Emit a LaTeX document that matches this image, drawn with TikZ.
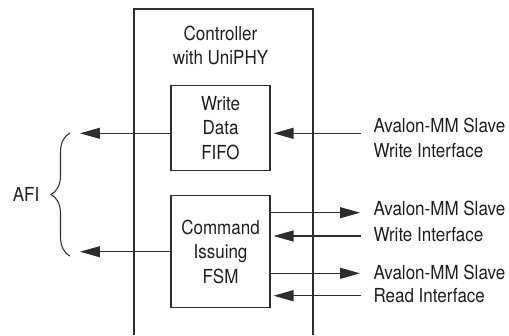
\documentclass[tikz,border=0pt]{standalone}
\usepackage{fontspec}
\setmainfont{TeX Gyre Heros}[FakeStretch=0.88]
\usetikzlibrary{arrows.meta, positioning, decorations.pathreplacing}
\definecolor{linecolor}{RGB}{45,45,45}
\definecolor{textcolor}{RGB}{30,30,30}

\begin{document}
\begin{tikzpicture}[
    x=0.02cm, y=-0.02cm,
    >={Triangle[length=4mm, width=2.2mm]},
    line width=0.6pt,
    every node/.style={text=textcolor, font=\fontsize{11}{14}\selectfont},
    block/.style={draw=linecolor, line width=0.6pt, minimum width=1.98cm, align=center, inner sep=0pt},
    sig/.style={->, draw=linecolor, fill=linecolor},
    port/.style={anchor=west, align=left, inner sep=0pt},
]
    \useasboundingbox (0,0) rectangle (509,335);
    % controller outline, open at the bottom
    \draw[linecolor] (134,335) -- (134,9) -- (313,9) -- (313,335);
    \node[align=center] (title) at (220.5,45.5) {Controller\\with UniPHY};

    \node[block, minimum height=1.71cm] (fifo) at (220.5,128) {Write\\Data\\FIFO};
    \node[block, minimum height=2.23cm] (fsm) at (220.5,251.7) {Command\\Issuing\\FSM};

    % AFI side
    \coordinate (afitop) at (80,133.3);
    \coordinate (afibot) at (80,251.7);
    \draw[sig] (fifo.west |- afitop) -- (afitop);
    \draw[sig] (fsm.west |- afibot) -- (afibot);
    \draw[linecolor, decorate, decoration={brace, amplitude=0.38cm}] (70,256) -- (70,133);
    \node (afi) at (26,194) {AFI};

    % Avalon-MM side
    \coordinate (wrdata) at (361,133.3);
    \draw[sig, shorten >=0.06cm] (wrdata) -- (fifo.east |- wrdata);
    \node[port] (wrdatalbl) at (373,138) {Avalon-MM Slave\\Write Interface};

    \coordinate (wrcmdout) at (360,212.7);
    \coordinate (wrcmdin) at (361,236);
    \draw[sig] (fsm.east |- wrcmdout) -- (wrcmdout);
    \draw[sig, shorten >=0.06cm] (wrcmdin) -- (fsm.east |- wrcmdin);
    \node[port] (wrcmdlbl) at (373,208) {Avalon-MM Slave};
    \node[port] (wrcmdlbltwo) at (373,235) {Write Interface};

    \coordinate (rdcmdout) at (360,273.3);
    \coordinate (rdcmdin) at (361,295.7);
    \draw[sig] (fsm.east |- rdcmdout) -- (rdcmdout);
    \draw[sig, shorten >=0.06cm] (rdcmdin) -- (fsm.east |- rdcmdin);
    \node[port] (rdcmdlbl) at (373,272) {Avalon-MM Slave};
    \node[port] (rdcmdlbltwo) at (373,296) {Read Interface};
\end{tikzpicture}
\end{document}
